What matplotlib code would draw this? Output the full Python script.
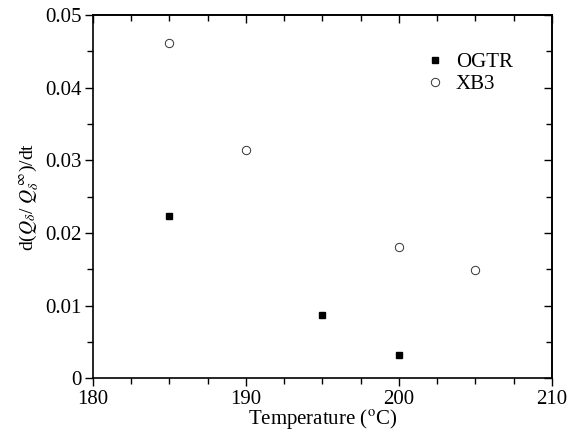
import matplotlib.pyplot as plt
from matplotlib.ticker import MultipleLocator

# Data
ogtr_temp = [185, 195, 200]
ogtr_rate = [0.0224, 0.0088, 0.0032]
xb3_temp = [185, 190, 200, 205]
xb3_rate = [0.0461, 0.0314, 0.0181, 0.0149]

plt.rcParams['font.family'] = ['Liberation Serif', 'DejaVu Serif']
plt.rcParams['mathtext.fontset'] = 'stix'

fig = plt.figure(figsize=(5.7, 4.33), dpi=100)
ax = fig.add_axes([0.163, 0.126, 0.805, 0.839])

ax.plot(ogtr_temp, ogtr_rate, 's', color='black', markersize=5, label='OGTR')
ax.plot(xb3_temp, xb3_rate, 'o', markerfacecolor='white', markeredgecolor='#333333',
        markeredgewidth=0.7, markersize=6, label='XB3')

ax.set_xlim(180, 210)
ax.set_ylim(0, 0.05)
ax.xaxis.set_major_locator(MultipleLocator(10))
ax.xaxis.set_minor_locator(MultipleLocator(2.5))
ax.yaxis.set_minor_locator(MultipleLocator(0.005))
ax.set_yticks([0, 0.01, 0.02, 0.03, 0.04, 0.05])
ax.set_yticklabels(['0', '0.01', '0.02', '0.03', '0.04', '0.05'])

# left/bottom ticks point outward
ax.tick_params(which='both', direction='out', labelsize=15, width=1)
ax.tick_params(which='major', length=6)
ax.tick_params(which='minor', length=4)
ax.tick_params(axis='x', which='major', pad=2)
ax.tick_params(axis='y', which='major', pad=2)
for s in ax.spines.values():
    s.set_linewidth(1.2)

# top/right ticks point inward
top = ax.secondary_xaxis('top')
top.xaxis.set_major_locator(MultipleLocator(10))
top.xaxis.set_minor_locator(MultipleLocator(2.5))
top.tick_params(which='both', direction='in', labeltop=False, width=1)
top.tick_params(which='major', length=6)
top.tick_params(which='minor', length=4)
top.spines['top'].set_linewidth(1.2)

right = ax.secondary_yaxis('right')
right.yaxis.set_major_locator(MultipleLocator(0.01))
right.yaxis.set_minor_locator(MultipleLocator(0.005))
right.tick_params(which='both', direction='in', labelright=False, width=1)
right.tick_params(which='major', length=6)
right.tick_params(which='minor', length=4)
right.spines['right'].set_linewidth(1.2)

ax.set_xlabel(r'Temperature ($^{\rm o}$C)', fontsize=15, labelpad=-1)
ax.set_ylabel(r'd($Q_\delta$/ $Q_\delta^{\,\infty}$)/dt', fontsize=14, labelpad=3)

ax.legend(loc='upper left', bbox_to_anchor=(0.705, 0.92), frameon=False, fontsize=15,
          handletextpad=0.5, labelspacing=0.1, handlelength=1.0, borderaxespad=0)

fig.savefig('out.png', dpi=100)
